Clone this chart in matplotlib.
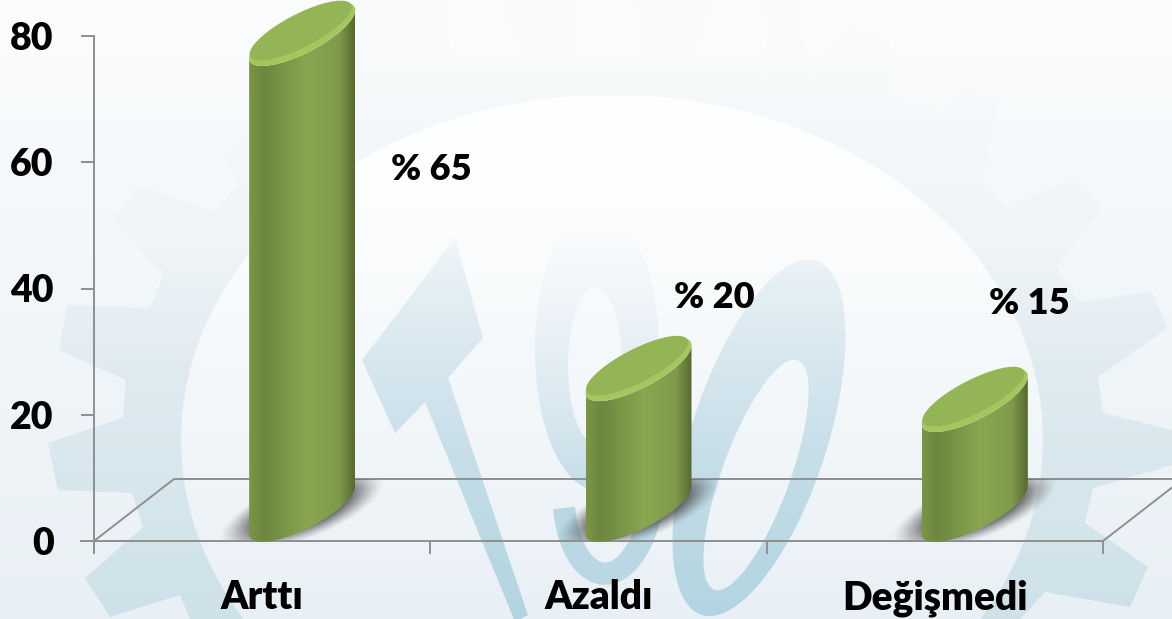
import numpy as np
import matplotlib
matplotlib.use("Agg")
import matplotlib.pyplot as plt
from matplotlib.colors import LinearSegmentedColormap as LSC, to_rgb
from matplotlib.patches import Polygon, PathPatch
from matplotlib.path import Path

categories = ["Arttı", "Azaldı", "Değişmedi"]
values = [75.4, 22.3, 17.4]
pct_labels = ["% 65", "% 20", "% 15"]
pct_x = [0.502, 1.344, 2.28]
pct_y = [58.9, 38.5, 37.7]
y_ticks = [0, 20, 40, 60, 80]

W, H = 1172, 619
plt.rcParams["font.family"] = ["Lato", "DejaVu Sans"]
fig = plt.figure(figsize=(W / 100, H / 100), dpi=100)

# ---------- watermark background, in pixel coordinates ----------
bg = fig.add_axes([0, 0, 1, 1], zorder=0)
bg.set_xlim(0, W)
bg.set_ylim(H, 0)
bg.axis("off")


def vgrad(stops, patch=None, z=1):
    cmap = LSC.from_list("g", stops)
    arr = np.linspace(0, 1, 256)[:, None]
    im = bg.imshow(arr, cmap=cmap, extent=[0, W, H, 0], aspect="auto", zorder=z,
                   vmin=0, vmax=1, interpolation="bilinear")
    if patch is not None:
        patch.set_transform(bg.transData)
        im.set_clip_path(patch)
    return im


def ell(cx, cy, a, b, deg=0.0, n=200):
    t = np.linspace(0, 2 * np.pi, n)
    r = np.radians(deg)
    x, y = a * np.cos(t), b * np.sin(t)
    return np.c_[cx + x * np.cos(r) - y * np.sin(r), cy + x * np.sin(r) + y * np.cos(r)]


def ring(outer, inner):
    return PathPatch(Path.make_compound_path(Path(outer, closed=True), Path(inner[::-1], closed=True)))


gear_pts = [(48, 443), (123, 418), (126, 380), (59, 350), (67, 305), (150, 308), (164, 274),
            (113, 222), (138, 185), (213, 212), (238, 185), (225, 157), (290, 90), (361, 0),
            (449, 0), (449, 77), (528, 63), (499, 0), (579, 0), (568, 60), (650, 60), (634, 0),
            (714, 0), (690, 60), (770, 80), (764, 0), (800, 0), (807, 87), (849, 27), (889, 40),
            (886, 100), (940, 113), (966, 87), (998, 100), (982, 180), (1008, 208), (1075, 177),
            (1104, 207), (1056, 267), (1078, 302), (1152, 292), (1167, 328), (1098, 377),
            (1103, 413), (1172, 430), (1172, 465), (1093, 488), (1085, 523), (1148, 567),
            (1130, 607), (1045, 592), (1020, 619), (190, 619), (180, 595), (110, 617), (85, 578),
            (143, 527), (132, 493), (58, 490)]
t_pts = [(455, 238), (483, 338), (448, 378), (528, 615), (515, 622), (425, 402), (395, 433), (362, 360)]

vgrad([(0, "#fbfcfd"), (0.5, "#f1f6f9"), (1, "#e9f0f5")], z=1)
vgrad([(0, "#fafbfc"), (0.2, "#f5f8fa"), (0.4, "#eef4f7"), (0.6, "#e0ebf1"), (1, "#cde1e9")],
      Polygon(gear_pts), z=2)
vgrad([(0, "#ffffff"), (0.3, "#fdfefe"), (0.65, "#f3f7fa"), (1, "#e9f0f5")],
      Polygon(ell(612, 440, 431, 345)), z=3)
blue = [(0, "#fdfeff"), (0.33, "#fafcfd"), (0.45, "#e6f0f5"), (0.6, "#d6e6ee"), (0.8, "#c0dbe6"), (1, "#b2d4e1")]
blue9 = [(0, "#fdfeff"), (0.36, "#fbfcfd"), (0.5, "#eef4f8"), (0.65, "#dbe9f0"), (0.8, "#c4dde7"), (1, "#b2d4e1")]
vgrad(blue, Polygon(t_pts), z=4)
vgrad(blue9, ring(ell(597, 350, 62, 140, 0), ell(595, 365, 27, 78, 0)), z=4)
vgrad(blue, ring(ell(759, 438, 186, 68, -72), ell(756, 475, 122, 34, -70)), z=4)
tail = PathPatch(Path([(564, 508), (575, 610), (660, 600), (660, 430)],
                      [Path.MOVETO, Path.CURVE4, Path.CURVE4, Path.CURVE4]),
                 fill=False, lw=16, color="#b9d8e4", zorder=4)
bg.add_patch(tail)

# ---------- chart ----------
x0, x1, y_base, y_top = 94, 1103, 541, 36
ax = fig.add_axes([x0 / W, (H - y_base) / H, (x1 - x0) / W, (y_base - y_top) / H], zorder=1)
ax.patch.set_alpha(0)
xlim, ylim = (-0.5, 2.5), (0, 80)
PX = (xlim[1] - xlim[0]) / (x1 - x0)
PY = (ylim[1] - ylim[0]) / (y_base - y_top)
depth_x, depth_y = 80 * PX, 62 * PY
half_w, skew, minor = 53 * PX, 24 * PY, 21 * PY
grey = "#8f8f8f"

for s in ("top", "right"):
    ax.spines[s].set_visible(False)
for s in ("left", "bottom"):
    ax.spines[s].set_color(grey)
    ax.spines[s].set_linewidth(1.4)
ax.set_yticks(y_ticks)
ax.set_xticks([-0.5, 0.5, 1.5, 2.5])
ax.set_xticklabels([])
ax.set_xticks([0, 1, 2], minor=True)
ax.set_xticklabels(categories, minor=True, fontsize=28, fontweight="heavy")
ax.tick_params(axis="x", which="minor", length=0, pad=27.5)
ax.tick_params(axis="both", which="major", length=9.5, width=1.4, color=grey)
ax.tick_params(axis="y", labelsize=27, pad=19.5)
for lab in ax.get_yticklabels():
    lab.set_fontweight("heavy")

# floor of the 3-D plot
ax.plot([-0.5, -0.5 + depth_x, 2.5 + depth_x, 2.5], [0, depth_y, depth_y, 0], color=grey, lw=1.4,
        clip_on=False, zorder=1)
ax.plot([-0.5 - 13 * PX, -0.5], [0, 0], color=grey, lw=1.4, clip_on=False, zorder=1)

body_cm = LSC.from_list("body", [(0, "#7a9644"), (0.14, "#6c8740"), (0.55, "#89a650"),
                                 (0.85, "#7f9b4a"), (1, "#566a30")])
ax_rgb = np.array(to_rgb("#4a4a4a"))


def cap(cx, cy, a=half_w, sk=skew, b=minor, n=160):
    t = np.linspace(0, 2 * np.pi, n)
    return cx + a * np.cos(t), cy + sk * np.cos(t) + b * np.sin(t)


for i, v in enumerate(values):
    cx = i + depth_x / 2
    base = depth_y / 2
    topc = base + v
    # shadow on the floor
    gx = np.linspace(cx - 100 * PX, cx + 100 * PX, 220)
    gy = np.linspace(0, depth_y, 80)
    XX, YY = np.meshgrid(gx, gy)
    dxp, dyp = (XX - cx) / PX, (YY - base) / PY
    u = (dxp * 81 + dyp * 31) / np.hypot(81, 31)
    w = (-dxp * 31 + dyp * 81) / np.hypot(81, 31)
    d = np.sqrt((u / 88.0) ** 2 + (w / 30.0) ** 2)
    alpha = 0.75 * np.clip((1.0 - d) / 0.4, 0, 1) ** 1.3
    rgba = np.dstack([np.full_like(XX, ax_rgb[0]), np.full_like(XX, ax_rgb[1]),
                      np.full_like(XX, ax_rgb[2]), alpha])
    ax.imshow(rgba, extent=[gx[0], gx[-1], gy[0], gy[-1]], origin="lower", aspect="auto",
              zorder=2, clip_on=False, interpolation="bilinear")
    # cylinder body
    t = np.linspace(0, np.pi, 100)
    low_x = cx + half_w * np.cos(t)
    low_y = base + skew * np.cos(t) - minor * np.sin(t)
    up_x = cx + half_w * np.cos(t)[::-1]
    up_y = topc + skew * np.cos(t)[::-1] - minor * np.sin(t)[::-1]
    poly = Polygon(np.r_[np.c_[low_x, low_y], np.c_[up_x, up_y]], closed=True,
                   transform=ax.transData)
    im = ax.imshow(np.linspace(0, 1, 256)[None, :], cmap=body_cm, vmin=0, vmax=1,
                   extent=[cx - half_w, cx + half_w, base - 8, topc + 8], aspect="auto", zorder=3,
                   interpolation="bilinear")
    im.set_clip_path(poly)
    im.set_clip_box(fig.bbox)
    # top cap
    ex, ey = cap(cx, topc)
    ax.fill(ex, ey, color="#a3c75d", lw=0, zorder=4, clip_on=False)
    ex2, ey2 = cap(cx - 1.5 * PX, topc + 3.5 * PY, a=half_w - 2 * PX, b=minor - 2.5 * PY, sk=skew - 0.5 * PY)
    ax.fill(ex2, ey2, color="#93b555", lw=0, zorder=5, clip_on=False)
    ax.text(pct_x[i], pct_y[i], pct_labels[i], fontsize=26, fontweight="heavy", ha="center",
            va="center", zorder=6)

ax.set_xlim(*xlim)
ax.set_ylim(*ylim)
fig.savefig("out.png", dpi=100)
